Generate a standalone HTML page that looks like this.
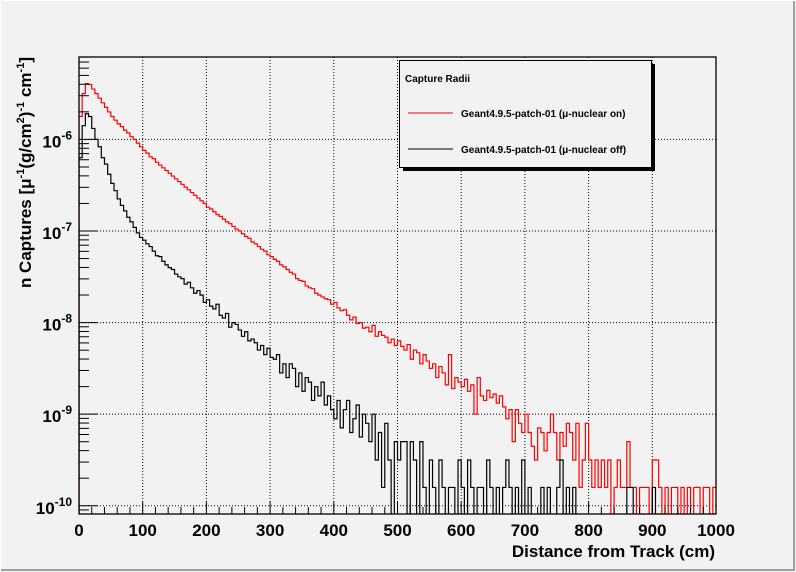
<!DOCTYPE html>
<html><head><meta charset="utf-8"><style>
html,body{margin:0;padding:0;background:#f2f2f2;}
svg{display:block;font-family:"Liberation Sans",Arial,sans-serif;}
</style></head><body>
<svg id="chart" width="796" height="572" viewBox="0 0 796 572" xmlns="http://www.w3.org/2000/svg">
<rect x="0" y="0" width="796" height="572" fill="#f2f2f2"/>
<path d="M0.5,571 V0.5 H795" stroke="#ffffff" stroke-width="1" fill="none"/>
<path d="M1,570 H794 V1" stroke="#a0a0a0" stroke-width="2" fill="none"/>
<g id="grid"></g>
<g id="series" clip-path="url(#clipFrame)"></g>
<defs><clipPath id="clipFrame"><rect x="79" y="57" width="637" height="457"/></clipPath></defs>
<rect x="79" y="57" width="637" height="457" fill="none" stroke="#000" stroke-width="1.3"/>
<g id="axes"></g>
<text x="715" y="557" text-anchor="end" font-size="17" font-weight="bold">Distance from Track (cm)</text>
<text transform="translate(31,57) rotate(-90)" text-anchor="end" font-size="17" font-weight="bold">n Captures [μ<tspan font-size="11" dy="-7">-1</tspan><tspan dy="7">(g/cm</tspan><tspan font-size="11" dy="-7">2</tspan><tspan dy="7">)</tspan><tspan font-size="11" dy="-7">-1</tspan><tspan dy="7"> cm</tspan><tspan font-size="11" dy="-7">-1</tspan><tspan dy="7">]</tspan></text>
<g>
<rect x="403" y="64" width="252" height="107" fill="#000"/>
<rect x="399.5" y="60.5" width="252" height="107" fill="#f2f2f2" stroke="#000" stroke-width="1"/>
<text x="405" y="82" font-size="10" font-weight="bold">Capture Radii</text>
<line x1="408" y1="113" x2="453" y2="113" stroke="#ff0000" stroke-width="1"/>
<text x="461" y="117" font-size="10" font-weight="bold">Geant4.9.5-patch-01 (μ-nuclear on)</text>
<line x1="408" y1="149" x2="453" y2="149" stroke="#000" stroke-width="1"/>
<text x="461" y="153" font-size="10" font-weight="bold">Geant4.9.5-patch-01 (μ-nuclear off)</text>
</g>
</svg>
<script>
// bin edges: 5 cm bins from 0 to 1000
const binWidth = 5;
const xTickLabels = ["0","100","200","300","400","500","600","700","800","900","1000"];
const yDecades = [-10,-9,-8,-7,-6];
// log10 of captures per bin; null = empty bin
const redLog10Values = [
-5.75,-5.5,-5.39,-5.40,-5.45,-5.50,-5.55,-5.60,-5.65,-5.70,
-5.75,-5.79,-5.83,-5.86,-5.90,-5.93,-5.97,-6.00,-6.04,-6.08,
-6.12,-6.15,-6.19,-6.21,-6.25,-6.28,-6.31,-6.34,-6.37,-6.40,
-6.43,-6.46,-6.49,-6.52,-6.55,-6.58,-6.61,-6.64,-6.67,-6.70,
-6.74,-6.76,-6.79,-6.82,-6.84,-6.87,-6.90,-6.92,-6.95,-6.98,
-7.00,-7.03,-7.06,-7.08,-7.12,-7.14,-7.17,-7.20,-7.22,-7.26,
-7.28,-7.31,-7.33,-7.37,-7.39,-7.42,-7.45,-7.47,-7.52,-7.54,
-7.55,-7.60,-7.62,-7.63,-7.68,-7.70,-7.72,-7.74,-7.75,-7.80,
-7.78,-7.84,-7.87,-7.86,-7.92,-7.97,-7.94,-8.01,-8.00,-8.06,
-8.05,-8.10,-8.03,-8.15,-8.10,-8.14,-8.16,-8.22,-8.18,-8.25,
-8.20,-8.26,-8.30,-8.24,-8.40,-8.30,-8.33,-8.45,-8.35,-8.42,
-8.50,-8.45,-8.60,-8.48,-8.55,-8.68,-8.35,-8.72,-8.60,-8.65,
-8.70,-8.62,-8.75,-8.68,-9.00,-8.60,-8.80,-8.85,-8.74,-8.82,
-8.78,-8.88,-8.80,-8.92,-9.05,-8.95,-9.30,-8.95,-9.10,-9.20,
-9.00,-9.20,-9.35,-9.50,-9.15,-9.20,-9.40,-9.20,-9.00,-9.20,
-9.50,-9.20,-9.35,-9.10,-9.20,-9.50,-9.10,-9.80,-9.50,-9.10,
-9.50,-9.80,-9.50,-9.80,-9.50,-9.80,-9.50,null,-9.80,-9.50,
-9.80,-9.80,-9.30,-9.80,-9.80,null,-9.80,-9.80,-9.80,null,
-9.50,-9.50,-9.80,null,-9.80,null,-9.80,-9.80,null,-9.80,
null,-9.80,null,-9.80,-9.80,null,-9.80,-9.80,null,-9.80
];
const blackLog10Values = [
-6.2,-5.85,-5.72,-5.75,-5.88,-6.0,-6.08,-6.20,-6.27,-6.38,
-6.48,-6.56,-6.65,-6.72,-6.78,-6.85,-6.90,-6.96,-7.02,-7.07,
-7.10,-7.14,-7.17,-7.22,-7.27,-7.28,-7.33,-7.37,-7.40,-7.42,
-7.47,-7.50,-7.52,-7.58,-7.56,-7.62,-7.68,-7.65,-7.70,-7.78,
-7.75,-7.82,-7.85,-7.80,-7.92,-7.95,-7.90,-8.05,-8.00,-8.02,
-8.08,-8.15,-8.10,-8.20,-8.18,-8.22,-8.30,-8.25,-8.35,-8.28,
-8.38,-8.40,-8.35,-8.55,-8.45,-8.60,-8.45,-8.50,-8.70,-8.55,
-8.75,-8.60,-8.65,-8.85,-8.70,-8.80,-8.65,-8.90,-8.80,-8.95,
-9.05,-8.85,-9.15,-8.95,-8.85,-9.20,-9.05,-8.90,-9.25,-9.00,
-9.10,-9.30,-9.00,-9.50,-9.20,-9.80,-9.10,-9.50,null,-9.30,
-9.50,-9.30,-9.30,null,-9.30,-9.50,null,-9.30,-9.80,null,
-9.50,-9.80,null,-9.50,-9.80,null,-9.80,-9.80,null,-9.50,
-9.80,null,-9.50,-9.80,null,-9.80,-9.80,null,-9.50,-9.80,
null,-9.80,null,-9.80,-9.50,-9.80,null,-9.80,null,-9.50,
null,-9.80,null,null,null,-9.80,null,-9.80,null,null,
-9.80,-9.50,null,-9.80,null,-9.80,null,null,null,null,
null,null,null,null,null,null,null,null,null,null,
null,null,-9.80,-9.80,null,null,null,null,null,null,
-9.80,null,null,null,null,null,null,null,null,null,
null,null,null,null,null,null,null,null,null,null
];
const X0=79, X1=716, Y0=514, Y1=57;
const xMin=0, xMax=1000, logMin=-10.09, logMax=-5.10;
function xScale(v){return X0+(v-xMin)/(xMax-xMin)*(X1-X0);}
function yScale(l){ if(l===null||l<logMin) return Y0+2; return Y0-(l-logMin)/(logMax-logMin)*(Y0-Y1);}
const NS="http://www.w3.org/2000/svg";
function mk(tag,attrs,parent){const e=document.createElementNS(NS,tag);for(const k in attrs)e.setAttribute(k,attrs[k]);parent.appendChild(e);return e;}
const grid=document.getElementById('grid'), axes=document.getElementById('axes'), series=document.getElementById('series');
// grid + x ticks
xTickLabels.forEach(function(lab,i){
  const v=+lab, x=xScale(v);
  if(v>xMin && v<xMax){
    const g=mk('line',{x1:x,y1:Y1,x2:x,y2:Y0,stroke:'#000','stroke-dasharray':'1,2','stroke-width':1},grid);
    
    
  }
  const t=mk('line',{x1:x,y1:Y0,x2:x,y2:Y0-12,stroke:'#000','stroke-width':1},axes);
  
  
  const tx=mk('text',{x:x,y:536,'text-anchor':'middle','font-size':17,'font-weight':'bold'},axes);
  tx.textContent=lab;
  
  
});
for(let v=20; v<xMax; v+=20){
  if(v%100===0) continue;
  const x=xScale(v);
  const t=mk('line',{x1:x,y1:Y0,x2:x,y2:Y0-7,stroke:'#000','stroke-width':1},axes);
  
  
}
// y ticks
yDecades.forEach(function(d){
  const y=yScale(d);
  const g=mk('line',{x1:X0,y1:y,x2:X1,y2:y,stroke:'#000','stroke-dasharray':'1,2','stroke-width':1},grid);
  
  
  const t=mk('line',{x1:X0,y1:y,x2:X0+19,y2:y,stroke:'#000','stroke-width':1},axes);
  
  
  const tx=mk('text',{x:72,y:y+8,'text-anchor':'end','font-size':17,'font-weight':'bold'},axes);
  
  
  tx.innerHTML='10<tspan font-size="12" dy="-8">'+d+'</tspan>';
});
for(let d=-11; d<=-5; d++){
  for(let m=2;m<=9;m++){
    const l=d+Math.log10(m);
    if(l<logMin||l>logMax) continue;
    const y=yScale(l);
    const t=mk('line',{x1:X0,y1:y,x2:X0+10,y2:y,stroke:'#000','stroke-width':1},axes);
    
    
  }
}
function histPath(vals){
  let d='M'+xScale(0)+','+(Y0+2);
  vals.forEach(function(l,i){
    const y=yScale(l);
    d+=' L'+xScale(i*binWidth).toFixed(2)+','+y.toFixed(2)+' L'+xScale((i+1)*binWidth).toFixed(2)+','+y.toFixed(2);
  });
  return d;
}
const pr=mk('path',{d:histPath(redLog10Values),fill:'none',stroke:'#ff0000','stroke-width':1.2},series);


const pb=mk('path',{d:histPath(blackLog10Values),fill:'none',stroke:'#000000','stroke-width':1.2},series);


</script>
</body></html>
